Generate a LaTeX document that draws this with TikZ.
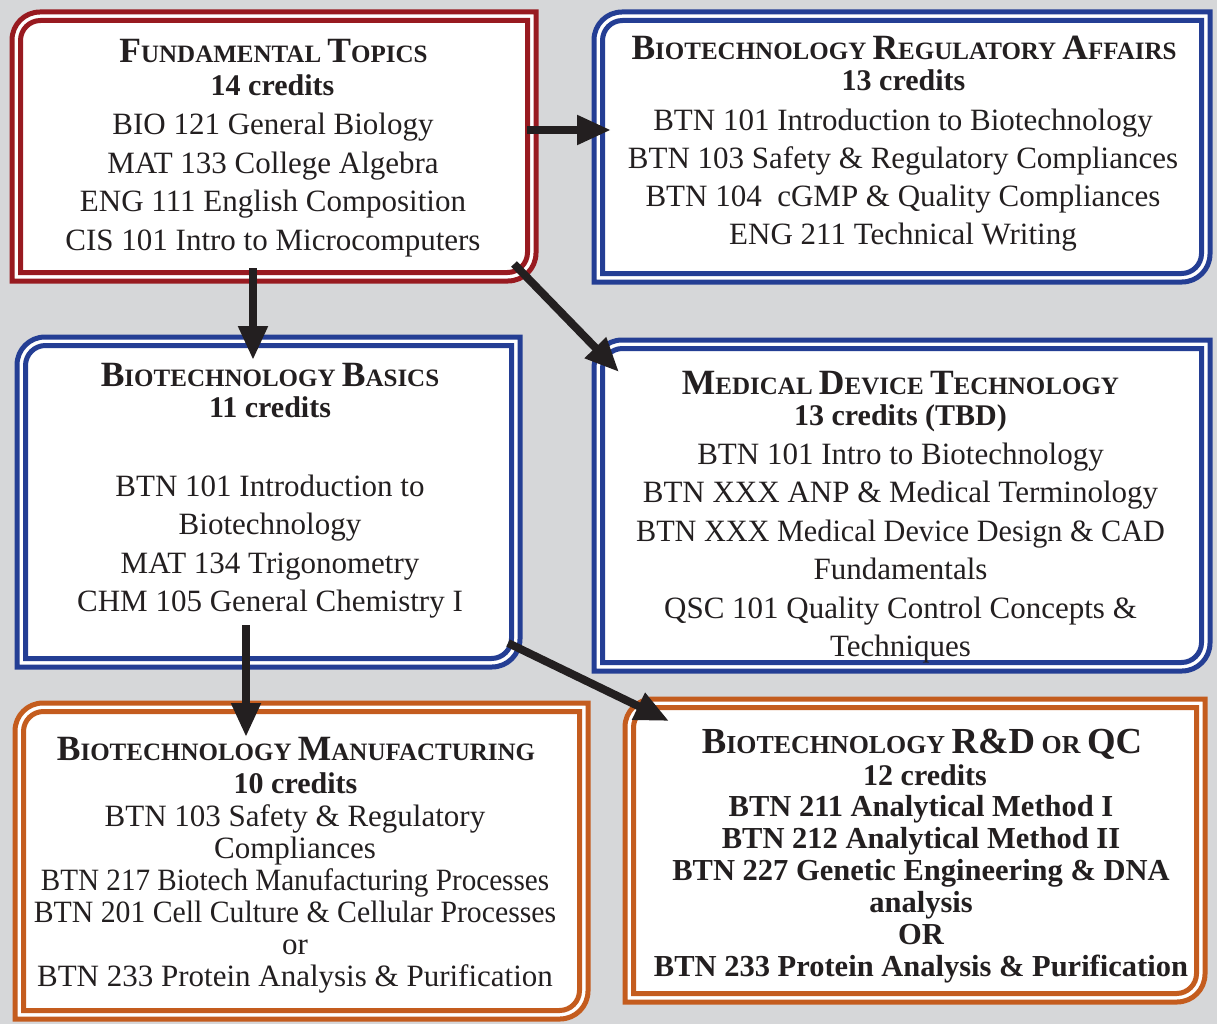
\documentclass[tikz,border=0pt]{standalone}
\usepackage{fontspec}
\setmainfont{Liberation Serif}
\usetikzlibrary{arrows.meta}
\definecolor{ink}{RGB}{35,31,32}
\definecolor{bred}{RGB}{152,26,32}
\definecolor{bblue}{RGB}{36,62,148}
\definecolor{borange}{RGB}{196,92,30}
\definecolor{bg}{RGB}{214,215,217}
\newcommand\Bc[1]{{\fontsize{35.5}{30}\selectfont #1}}
\newcommand\Bd[1]{{\fontsize{36.7}{30}\selectfont #1}}
\newcommand\dblframe[2]{%
  \draw[#2, line width=5pt, fill=white] (#1.south west)
    -- ([yshift=-28pt]#1.north west) arc[start angle=180,end angle=90,radius=28pt]
    -- (#1.north east)
    -- ([yshift=28pt]#1.south east) arc[start angle=0,end angle=-90,radius=28pt]
    -- cycle;
  \draw[#2, line width=5pt] ([shift={(8.5pt,8.5pt)}]#1.south west)
    -- ([shift={(8.5pt,-28.5pt)}]#1.north west) arc[start angle=180,end angle=90,radius=20pt]
    -- ([shift={(-8.5pt,-8.5pt)}]#1.north east)
    -- ([shift={(-8.5pt,28.5pt)}]#1.south east) arc[start angle=0,end angle=-90,radius=20pt]
    -- cycle;}
\begin{document}
\begin{tikzpicture}[x=1pt,y=-1pt,
  frame/.style={inner sep=0pt, outer sep=0pt},
  body/.style={anchor=base, inner sep=0pt, text=ink, font=\fontsize{31}{36}\selectfont},
  bbody/.style={anchor=base, inner sep=0pt, text=ink, font=\bfseries\fontsize{30.5}{36}\selectfont},
  ttl/.style={anchor=base, inner sep=0pt, text=ink, font=\bfseries\fontsize{25}{30}\selectfont},
  cred/.style={anchor=base, inner sep=0pt, text=ink, font=\bfseries\fontsize{30}{36}\selectfont},
  arr/.style={draw=ink, line width=8pt, -{Triangle[length=34pt,width=28pt]}}]
\fill[bg] (0,0) rectangle (1217,1024);
\useasboundingbox (0,0) rectangle (1217,1024);

% box frames
\node[frame, minimum width=524pt, minimum height=269pt] (fund) at (274,146.5) {};
\node[frame, minimum width=616pt, minimum height=270pt] (reg) at (902,147) {};
\node[frame, minimum width=503pt, minimum height=330pt] (basic) at (268.5,502) {};
\node[frame, minimum width=616pt, minimum height=331pt] (med) at (902,505.5) {};
\node[frame, minimum width=573pt, minimum height=316pt] (manu) at (301.5,861) {};
\node[frame, minimum width=580pt, minimum height=303pt] (rnd) at (915,850.5) {};
\dblframe{fund}{bred}
\dblframe{reg}{bblue}
\dblframe{basic}{bblue}
\dblframe{med}{bblue}
\dblframe{manu}{borange}
\dblframe{rnd}{borange}

% Fundamental topics
\node[ttl] (fundt) at (273.5,63) {\Bc{F}UNDAMENTAL \Bc{T}OPICS};
\node[cred] (fundc) at (272.5,96) {14 credits};
\foreach \t [count=\i from 0] in {BIO 121 General Biology,MAT 133 College Algebra,ENG 111 English Composition,CIS 101 Intro to Microcomputers}
  \node[body] (fundl\i) at (273,135+38.5*\i) {\t};

% Regulatory affairs
\node[ttl] (regt) at (904,60) {\Bc{B}IOTECHNOLOGY \Bc{R}EGULATORY \Bc{A}FFAIRS};
\node[cred] (regc) at (903.5,91) {13 credits};
\foreach \t [count=\i from 0] in {BTN 101 Introduction to Biotechnology,BTN 103 Safety \& Regulatory Compliances,BTN 104\ \ cGMP \& Quality Compliances,ENG 211 Technical Writing}
  \node[body] (regl\i) at (903,131+38*\i) {\t};

% Basics
\node[ttl] (basict) at (270,386) {\Bc{B}IOTECHNOLOGY \Bc{B}ASICS};
\node[cred] (basicc) at (270,417) {11 credits};
\foreach \t [count=\i from 0] in {BTN 101 Introduction to,Biotechnology,MAT 134 Trigonometry,CHM 105 General Chemistry I}
  \node[body] (basicl\i) at (270,496+38.5*\i) {\t};

% Medical device
\node[ttl] (medt) at (900.5,394) {\Bc{M}EDICAL \Bc{D}EVICE \Bc{T}ECHNOLOGY};
\node[cred] (medc) at (900.5,425) {13 credits (TBD)};
\foreach \t [count=\i from 0] in {BTN 101 Intro to Biotechnology,BTN XXX ANP \& Medical Terminology,\scalebox{0.975}[1]{BTN XXX Medical Device Design \& CAD},Fundamentals,QSC 101 Quality Control Concepts \&,Techniques}
  \node[body] (medl\i) at (900.5,464+38.5*\i) {\t};

% Manufacturing
\node[ttl] (manut) at (296,760) {\Bc{B}IOTECHNOLOGY \Bc{M}ANUFACTURING};
\node[cred] (manuc) at (295.5,793) {10 credits};
\foreach \t [count=\i from 0] in {BTN 103 Safety \& Regulatory,Compliances,\scalebox{0.94}[1]{BTN 217 Biotech Manufacturing Processes},\scalebox{0.96}[1]{BTN 201 Cell Culture \& Cellular Processes},or,BTN 233 Protein Analysis \& Purification}
  \node[body] (manul\i) at (295,826+32*\i) {\t};

% R&D or QC
\node[ttl, font=\bfseries\fontsize{25.9}{30}\selectfont] (rndt) at (922,753) {\Bd{B}IOTECHNOLOGY \Bd{R\&D} OR \Bd{QC}};
\node[cred] (rndc) at (925,785) {12 credits};
\foreach \t [count=\i from 0] in {BTN 211 Analytical Method I,BTN 212 Analytical Method II,BTN 227 Genetic Engineering \& DNA,analysis,OR,BTN 233 Protein Analysis \& Purification}
  \node[bbody] (rndl\i) at (921,816+32*\i) {\t};

% connectors
\coordinate (a1s) at (527,130);
\coordinate (a1e) at (611,130);
\coordinate (a2s) at (253,268);
\coordinate (a2e) at (253,360);
\coordinate (a3s) at (514,264);
\coordinate (a3e) at (619,372);
\coordinate (a4s) at (246,625);
\coordinate (a4e) at (246,737);
\coordinate (a5s) at (508,643);
\coordinate (a5e) at (669,721);
\draw[arr] (a1s) -- (a1e);
\draw[arr] (a2s) -- (a2e);
\draw[arr] (a3s) -- (a3e);
\draw[arr] (a4s) -- (a4e);
\draw[arr] (a5s) -- (a5e);
\end{tikzpicture}
\end{document}
